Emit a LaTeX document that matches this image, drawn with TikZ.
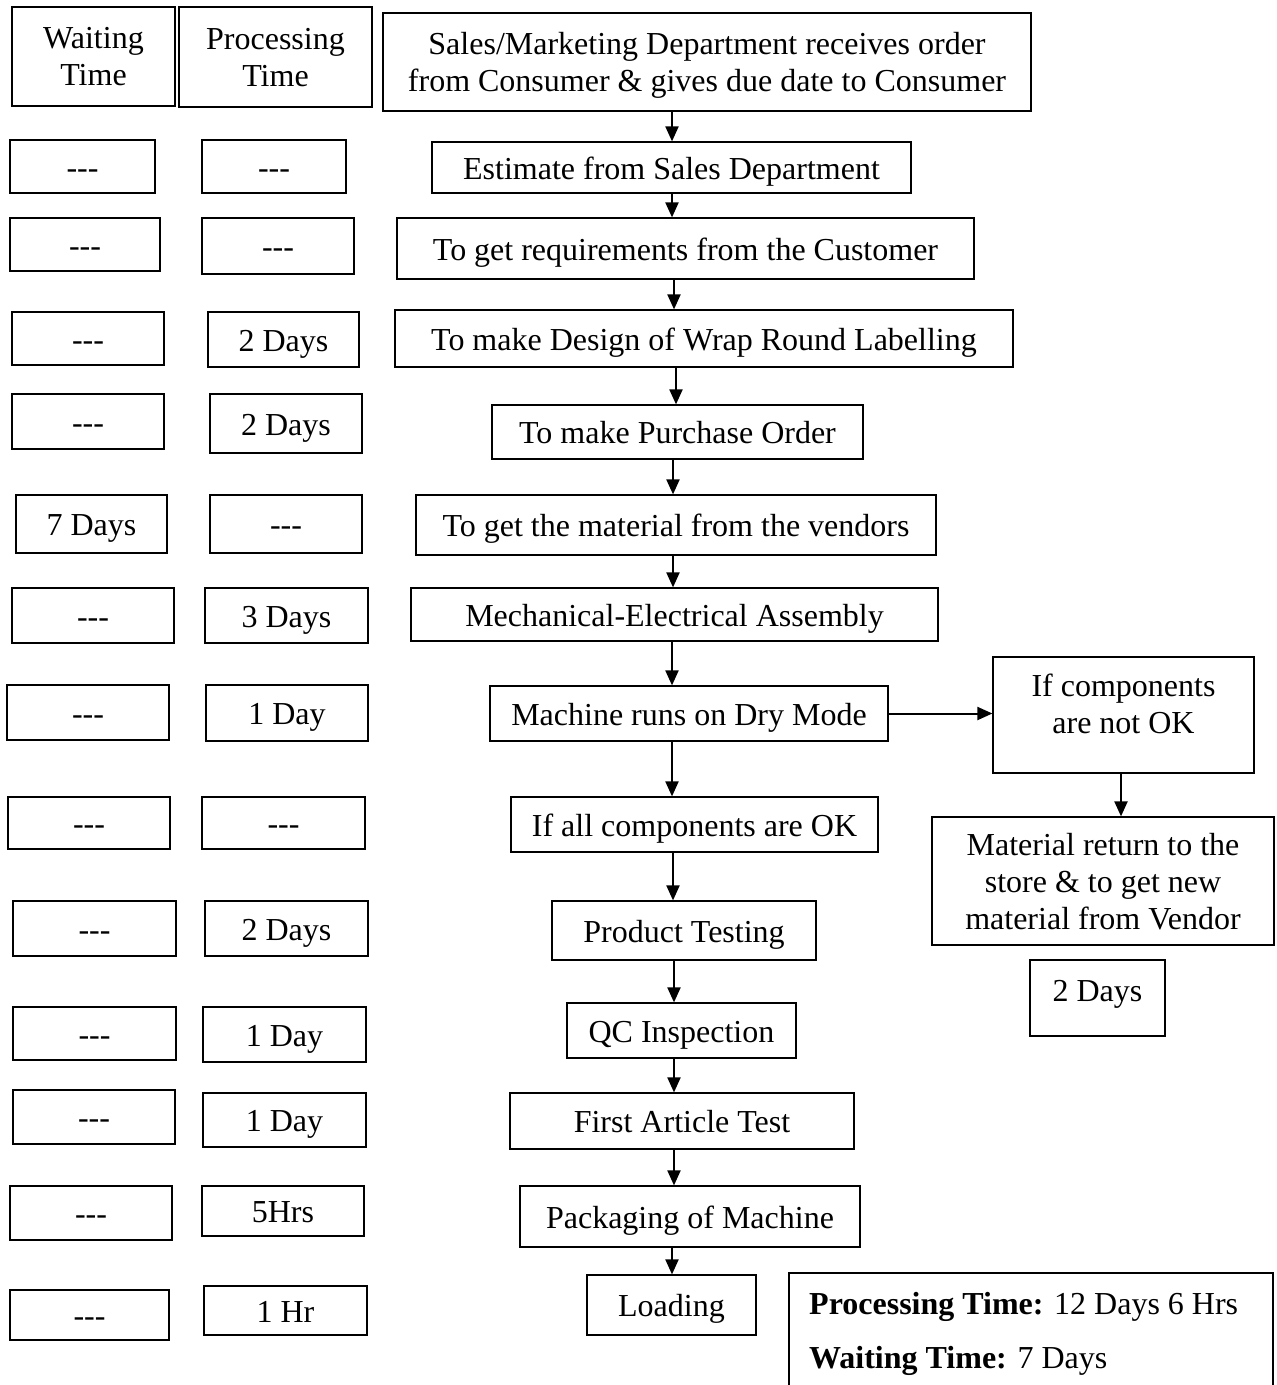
\documentclass[tikz,border=0pt]{standalone}
\usepackage{fontspec}
\setmainfont{Liberation Serif}[Ligatures=TeXOff]
\usetikzlibrary{arrows.meta}
% tall strut so each box keeps its text slightly below the middle
\newcommand\boxstrut{\rule[-11pt]{0pt}{45pt}}
\tikzset{
  box/.style={draw, line width=1.2pt, inner sep=0pt, align=center,
              font=\fontsize{32}{37}\selectfont, execute at begin node=\boxstrut},
  arr/.style={line width=2pt, -{Triangle[length=15pt,width=13pt]}},
  sumtext/.style={anchor=west, inner sep=0pt, font=\fontsize{32}{37}\selectfont},
}
% box from its corner coordinates: [extra style] name, x1, y1, x2, y2, text
\newcommand\bx[7][]{\node[box, #1, minimum width={#5-#3}, minimum height={#6-#4}]
  (#2) at ({(#3+#5)/2},{(#4+#6)/2}) {#7};}
\begin{document}
\begin{tikzpicture}[x=1pt,y=-1pt]
\useasboundingbox (0,0) rectangle (1277,1385);
% column headings
\bx[text depth=-6pt]{hw}{12}{7}{175}{106}{Waiting\\Time}
\bx[text depth=-6pt]{hp}{179}{7}{372}{107}{Processing\\Time}
\bx[text depth=1pt]{sales}{383}{13}{1031}{111}{Sales/Marketing Department receives order\\from Consumer \& gives due date to Consumer}
% rows: waiting time, processing time, step
\bx{w1}{10}{140}{155}{193}{---}
\bx{p1}{202}{140}{346}{193}{---}
\bx{est}{432}{142}{911}{193}{Estimate from Sales Department}
\bx{w2}{10}{218}{160}{271}{---}
\bx{p2}{202}{218}{354}{274}{---}
\bx{req}{397}{218}{974}{279}{To get requirements from the Customer}
\bx{w3}{12}{312}{164}{365}{---}
\bx{p3}{208}{312}{359}{367}{2 Days}
\bx{des}{395}{310}{1013}{367}{To make Design of Wrap Round Labelling}
\bx{w4}{12}{394}{164}{449}{---}
\bx{p4}{210}{394}{362}{453}{2 Days}
\bx{po}{492}{405}{863}{459}{To make Purchase Order}
\bx{w5}{16}{495}{167}{553}{7 Days}
\bx{p5}{210}{495}{362}{553}{---}
\bx{ven}{416}{495}{936}{555}{To get the material from the vendors}
\bx{w6}{12}{588}{174}{643}{---}
\bx{p6}{205}{588}{368}{643}{3 Days}
\bx{asm}{411}{588}{938}{641}{Mechanical-Electrical Assembly}
\bx{w7}{7}{685}{169}{740}{---}
\bx{p7}{206}{685}{368}{741}{1 Day}
\bx{dry}{490}{686}{888}{741}{Machine runs on Dry Mode}
\bx{w8}{8}{797}{170}{849}{---}
\bx{p8}{202}{797}{365}{849}{---}
\bx{ok}{511}{797}{878}{852}{If all components are OK}
\bx{w9}{13}{901}{176}{956}{---}
\bx{p9}{205}{901}{368}{956}{2 Days}
\bx{test}{552}{901}{816}{960}{Product Testing}
\bx{w10}{13}{1007}{176}{1060}{---}
\bx{p10}{203}{1007}{366}{1062}{1 Day}
\bx{qc}{567}{1003}{796}{1058}{QC Inspection}
\bx{w11}{13}{1090}{175}{1144}{---}
\bx{p11}{203}{1093}{366}{1147}{1 Day}
\bx{fat}{510}{1093}{854}{1149}{First Article Test}
\bx{w12}{10}{1186}{172}{1240}{---}
\bx{p12}{202}{1186}{364}{1236}{5Hrs}
\bx{pack}{520}{1186}{860}{1247}{Packaging of Machine}
\bx{w13}{10}{1290}{169}{1340}{---}
\bx{p13}{204}{1286}{367}{1335}{1 Hr}
\bx{load}{587}{1275}{756}{1335}{Loading}
% rejection branch
\bx[text depth=22pt]{notok}{993}{657}{1254}{773}{If components\\are not OK}
\bx[text depth=-14pt]{mat}{932}{817}{1274}{945}{Material return to the\\store \& to get new\\material from Vendor}
\bx[text depth=28pt]{rdays}{1030}{960}{1165}{1036}{2 Days}
% totals (box runs past the lower edge)
\begin{scope}
\clip (0,0) rectangle (1277,1385);
\bx{summary}{789}{1273}{1273}{1420}{}
\end{scope}
\node[sumtext] (tp) at (809,1307) {\textbf{Processing Time:} 12 Days 6 Hrs};
\node[sumtext] (tw) at (809,1361) {\textbf{Waiting Time:} 7 Days};
% arrow columns
\coordinate (a2) at (672,0);
\coordinate (a3) at (673,0);
\coordinate (a4) at (674,0);
\coordinate (a6) at (676,0);
\coordinate (ar) at (1121,0);
% main flow
\draw[arr] (sales.south -| a2) -- (est.north -| a2);
\draw[arr] (est.south -| a2) -- (req.north -| a2);
\draw[arr] (req.south -| a4) -- (des.north -| a4);
\draw[arr] (des.south -| a6) -- (po.north -| a6);
\draw[arr] (po.south -| a3) -- (ven.north -| a3);
\draw[arr] (ven.south -| a3) -- (asm.north -| a3);
\draw[arr] (asm.south -| a2) -- (dry.north -| a2);
\draw[arr] (dry.south -| a2) -- (ok.north -| a2);
\draw[arr] (ok.south -| a3) -- (test.north -| a3);
\draw[arr] (test.south -| a4) -- (qc.north -| a4);
\draw[arr] (qc.south -| a4) -- (fat.north -| a4);
\draw[arr] (fat.south -| a4) -- (pack.north -| a4);
\draw[arr] (pack.south -| a2) -- (load.north -| a2);
% branch
\draw[arr] (dry.east) -- (notok.west |- dry.east);
\draw[arr] (notok.south -| ar) -- (mat.north -| ar);
\end{tikzpicture}
\end{document}
